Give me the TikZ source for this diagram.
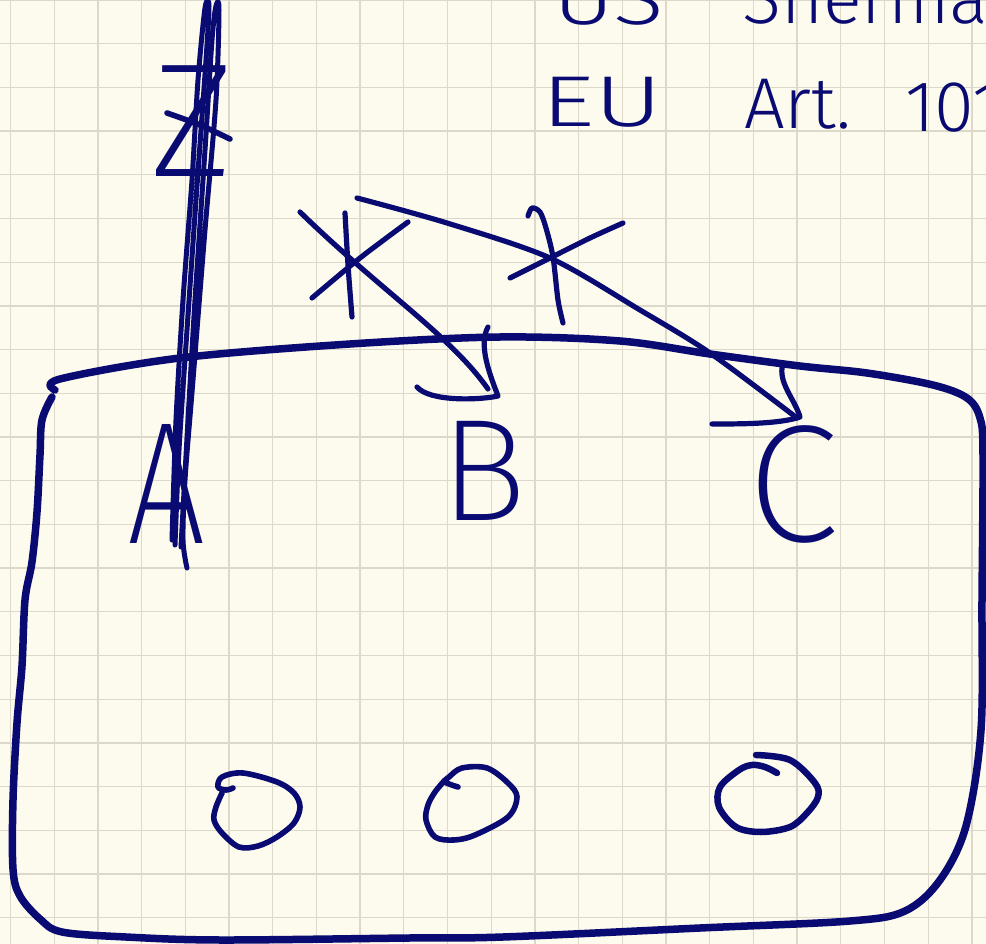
\documentclass[tikz,border=0pt]{standalone}
\usepackage{fontspec}
\IfFontExistsTF{Fira Sans ExtraLight}{\newfontfamily\thinfont{Fira Sans ExtraLight}}{%
 \IfFontExistsTF{Fira Sans Light}{\newfontfamily\thinfont{Fira Sans Light}}{%
  \IfFontExistsTF{DejaVu Sans ExtraLight}{\newfontfamily\thinfont{DejaVu Sans ExtraLight}}{%
   \newfontfamily\thinfont{Fira Sans}}}}
\IfFontExistsTF{Fira Sans Light}{\newfontfamily\lightfont{Fira Sans Light}}{%
 \IfFontExistsTF{Fira Sans Book}{\newfontfamily\lightfont{Fira Sans Book}}{%
  \newfontfamily\lightfont{Fira Sans}}}
\definecolor{ink}{RGB}{10,10,115}
\definecolor{paper}{RGB}{253,251,237}
\definecolor{gridc}{RGB}{220,217,202}
\tikzset{
  ink/.style={draw=ink, line width=5.6pt, line cap=round, line join=round},
  boxline/.style={ink, line width=7.5pt},
  gridline/.style={draw=gridc, line width=1.3pt},
  lbl/.style={text=ink, inner sep=0pt, anchor=base west},
}
\begin{document}
\begin{tikzpicture}[x=1pt,y=-1pt]
\useasboundingbox (0,0) rectangle (986,944);
\fill[paper] (0,0) rectangle (986,944);
\clip (0,0) rectangle (986,944);
% grid
\foreach \i in {0,...,22} \draw[gridline] ({10.5+43.7*\i},0) -- ({10.5+43.7*\i},944);
\foreach \j in {0,...,21} \draw[gridline] (0,{43.7*\j}) -- (986,{43.7*\j});

% heading text
\node[lbl, font=\lightfont\fontsize{72}{72}\selectfont] (us) at (553,25) {\scalebox{1.3}[1]{US}};
\node[lbl, font=\lightfont\fontsize{72}{72}\selectfont] (sherman) at (742,24) {Sherman};
\node[lbl, font=\lightfont\fontsize{72}{72}\selectfont] (eu) at (541,127) {\scalebox{1.45}[1]{EU}};
\node[lbl, font=\lightfont\fontsize{72}{72}\selectfont] (art) at (744,129) {Art.};
\node[lbl, font=\lightfont\fontsize{72}{72}\selectfont] (num) at (905,132) {101};

% box
\draw[boxline] plot[smooth, tension=0.55] coordinates {
 (55,390) (60,379) (180,358) (350,344) (500,337) (620,341) (710,354) (800,366)
 (867,373) (933,385) (967,398) (980,418) (983,455) (982,600) (981,730)
 (966,826) (940,880) (905,911) (850,921) (700,928) (503,937) (409,938)
 (220,940) (126,937) (62,932) (40,919) (20,896) (13,869) (13,800) (17,723)
 (22,666) (25,600) (32,562) (37,512) (40,455) (42,420) (52,397)};

% labels
\node[lbl, font=\thinfont\fontsize{162}{162}\selectfont] (zlbl) at (150,177) {Z};
\draw[ink] plot[smooth] coordinates {(167,113) (200,125) (230,139)};
\node[lbl, font=\thinfont\fontsize{174}{174}\selectfont] (albl) at (127,543) {\scalebox{0.8}[1]{A}};
\node[lbl, font=\thinfont\fontsize{145}{145}\selectfont] (blbl) at (440,520) {B};
\node[lbl, font=\thinfont\fontsize{167}{167}\selectfont] (clbl) at (747,541) {C};

% strike-through scribble
\draw[ink, line width=5pt] plot[smooth, tension=0.5] coordinates {
 (172,540) (176,420) (183,300) (192,180) (198,80) (205,8) (209,6) (206,60)
 (196,200) (187,330) (179,450) (175,545)};
\draw[ink, line width=5pt] plot[smooth, tension=0.5] coordinates {
 (181,547) (188,420) (195,300) (205,150) (212,40) (216,6) (219,10) (216,100)
 (205,230) (193,380) (185,480) (183,540) (187,568)};

% arrows
\coordinate (a1s) at (300,212);
\coordinate (tipB) at (488,389);
\coordinate (a2s) at (357,198);
\coordinate (tipC) at (797,418);
\draw[ink, line width=5.2pt] (a1s) .. controls (380,290) and (450,335) .. (tipB);
\draw[ink, line width=5.2pt] plot[smooth] coordinates {(a2s) (447,223) (550,258) (640,310) (710,353) (tipC)};
% arrow heads
\draw[ink, line width=5.2pt] (488,327) .. controls (478,345) and (490,375) .. (498,396)
  .. controls (480,400) and (430,402) .. (417,387);
\draw[ink, line width=5.2pt] (782,368) .. controls (780,385) and (795,400) .. (800,417)
  .. controls (780,424) and (740,424) .. (712,424);
% crosses
\draw[ink, line width=5.2pt] plot[smooth] coordinates {(345,213) (348,265) (352,317)};
\draw[ink, line width=5.2pt] plot[smooth] coordinates {(408,222) (360,258) (312,298)};
\draw[ink, line width=5.2pt] plot[smooth] coordinates {(528,216) (532,208) (540,212) (546,228) (553,257) (558,300) (563,323)};
\draw[ink, line width=5.2pt] plot[smooth] coordinates {(623,223) (590,238) (550,258) (510,278)};

% circles
\draw[ink] plot[smooth, tension=0.55] coordinates {
 (233,788) (226,790) (218,787) (222,777) (243,773) (277,782) (294,793) (300,807)
 (294,823) (277,837) (258,846) (239,847) (222,833) (214,820) (216,807) (222,793)};
\draw[ink] plot[smooth, tension=0.55] coordinates {
 (458,787) (445,782) (449,777) (462,768) (487,768) (508,783) (517,797) (508,817)
 (475,835) (454,840) (435,837) (426,820) (428,805) (435,792) (445,780)};
\draw[ink, line width=6.5pt] plot[smooth, tension=0.55] coordinates {
 (756,755) (790,760) (815,783) (818,797) (807,813) (790,827) (761,832) (736,827)
 (719,807) (720,787) (739,770) (752,765) (765,767) (777,773)};
\end{tikzpicture}
\end{document}
